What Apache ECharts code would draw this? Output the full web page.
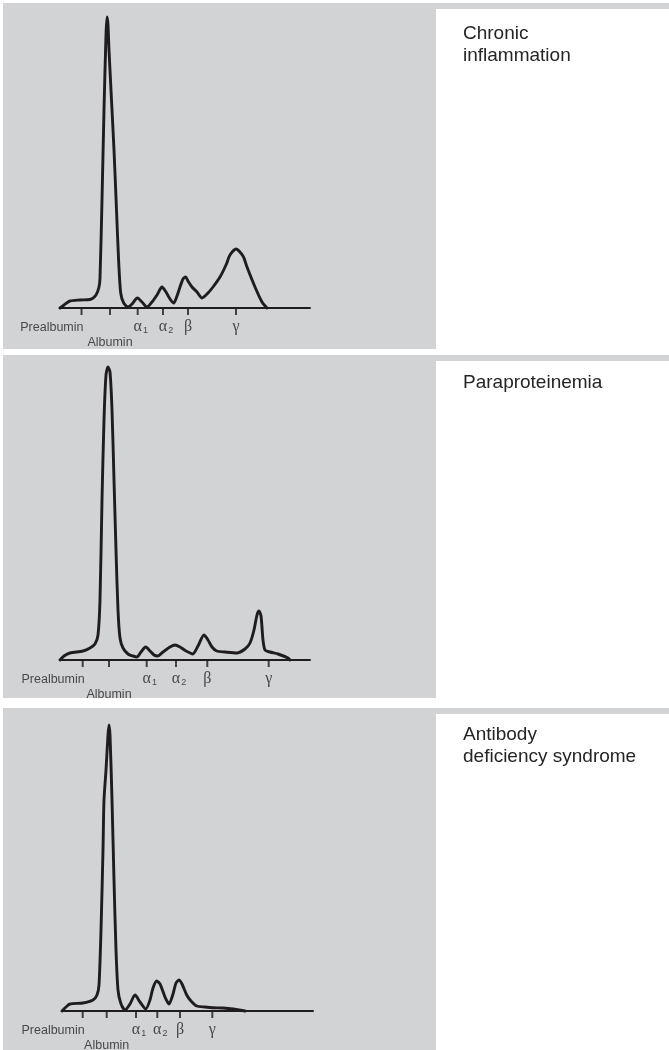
<!DOCTYPE html>
<html><head><meta charset="utf-8">
<script src="https://cdn.jsdelivr.net/npm/echarts@6/dist/echarts.min.js"></script>
<style>html,body{margin:0;padding:0;background:#fff}#c{width:669px;height:1050px}</style>
</head><body><div id="c"></div>
<script>
// Fraction names (tick labels)
const tickLabels = ['Prealbumin', 'Albumin', 'α1', 'α2', 'β', 'γ'];
const panelTitles = ['Chronic\ninflammation', 'Paraproteinemia', 'Antibody\ndeficiency syndrome'];

// Tick positions (mobility units) per panel
const chronicTicks = [21.5, 50, 77.7, 103, 128, 176];
const paraTicks = [22.7, 49, 86.7, 116, 147.3, 208.7];
const antibodyTicks = [22.7, 46.7, 76, 97.3, 120, 152.3];

// Densitometric curves [mobility, intensity]
const chronicCurve = [
  [0,0],[4,3],[10,7],[20,8],[30,8.5],[36,13],[39,21],[40,30],[42,108],[44,198],[46,273],[47,291],
  [48,283],[49,258],[51.5,208],[54,158],[56.5,98],[58.6,48],[60.7,15],[63.7,5],[68,1],[72,4],
  [77.4,10],[82,6],[87,1],[92,6],[97,13],[102,21],[106,16],[110,9],[113.6,5],[117,12],[120,21],
  [123,29],[125.6,31],[128,27],[132,21],[137,16],[142,10],[148,15],[153,21],[160,31],[166,43],
  [170,53],[176,59],[183,52],[187,41],[195,21],[202,6],[207,0]
];
const paraCurve = [
  [0,0],[4,4],[10,7],[23,9],[30,12],[35,16],[38,25],[40,60],[42,160],[44,240],[46,285],[48,293],
  [50,288],[52,250],[54,180],[56,110],[58,50],[60,22],[63,12],[68,6],[73,4],[77,3],[81,8],[85.7,13],
  [90,9],[94,5],[97.7,4],[103,8],[110,13],[115,15],[120,13],[126,9],[132.7,6],[138,14],[144,25],
  [148,20],[152,13],[156.7,9],[165,8],[176.7,7],[185,11],[190,17],[194,30],[197,45],[199,49],
  [201,44],[203,20],[205,10],[210,8],[218,6],[228,2],[230,0]
];
const antibodyCurve = [
  [2,0],[6,4],[10,7],[23,8],[33,11],[37,16],[39,26],[41,81],[43,161],[44,211],[46,241],[48,276],
  [49,286],[50,276],[52,211],[54,131],[56,61],[58,21],[60.7,8],[65,1],[70,7],[75,16],[80,9],
  [85.7,2],[90,11],[93,23],[96.7,30],[100,27],[105,14],[109,7],[113,17],[116,28],[119,31],[122,27],
  [126.7,16],[131,10],[136.7,5],[145,4],[153,3.3],[163,3],[173,2],[185,0]
];

const panels = [
  {curve: chronicCurve, ticks: chronicTicks, title: panelTitles[0], y0: 3, h: 346, base: 308, left: 60, xmin: 0, xmax: 250, titleTop: 23},
  {curve: paraCurve, ticks: paraTicks, title: panelTitles[1], y0: 355, h: 343, base: 660, left: 60, xmin: 0, xmax: 250, titleTop: 372},
  {curve: antibodyCurve, ticks: antibodyTicks, title: panelTitles[2], y0: 708, h: 342, base: 1011, left: 62, xmin: 2, xmax: 253, titleTop: 724}
];

const GRAY = '#d1d3d4', INK = '#1e1c1d', TXT = '#262425';
const YMAX = 300;
const grids = [], xAxes = [], yAxes = [], series = [], titles = [], graphics = [];

function labelFor(name) {
  if (name === 'Prealbumin') return {formatter: name, align: 'right', offset: [2, 16]};
  if (name === 'Albumin') return {formatter: name, align: 'center', offset: [0, 31]};
  const g = name.charAt(0), sub = name.slice(1);
  return {formatter: sub ? '{g|' + g + '}{s|' + sub + '}' : '{g|' + g + '}', align: 'center', offset: [sub ? 3 : 0, 15]};
}

panels.forEach((p, k) => {
  graphics.push({type: 'rect', silent: true, z: -10, shape: {x: 3, y: p.y0, width: 433, height: p.h}, style: {fill: GRAY}});
  graphics.push({type: 'rect', silent: true, z: -10, shape: {x: 3, y: p.y0, width: 666, height: 6}, style: {fill: GRAY}});
  titles.push({text: p.title, left: 463, top: p.titleTop, padding: 0,
    textStyle: {fontFamily: 'Liberation Sans', fontSize: 19, lineHeight: 22, fontWeight: 'normal', color: TXT}});
  grids.push({left: p.left, width: p.xmax - p.xmin, top: p.base - YMAX, height: YMAX});
  xAxes.push({gridIndex: k, type: 'value', min: p.xmin, max: p.xmax,
    axisLine: {show: true, onZero: true, lineStyle: {color: INK, width: 2}},
    axisTick: {show: false}, axisLabel: {show: false}, splitLine: {show: false}});
  yAxes.push({gridIndex: k, type: 'value', min: 0, max: YMAX, show: false, splitLine: {show: false}});
  series.push({type: 'line', xAxisIndex: k, yAxisIndex: k, data: p.curve, showSymbol: false, smooth: 0.25,
    clip: false, silent: true, lineStyle: {color: INK, width: 2.9, join: 'round', cap: 'round'}, z: 5});
  series.push({type: 'scatter', xAxisIndex: k, yAxisIndex: k, silent: true, z: 4,
    symbol: 'rect', symbolSize: [2, 7], symbolOffset: [0, 3.5], itemStyle: {color: INK},
    data: p.ticks.map((t, i) => {
      const L = labelFor(tickLabels[i]);
      return {value: [t, 0], label: {show: true, position: 'inside', formatter: L.formatter, align: L.align,
        verticalAlign: 'middle', offset: L.offset, color: TXT, fontFamily: 'Liberation Sans', fontSize: 12.5,
        rich: {g: {fontFamily: 'Liberation Serif', fontSize: 16, color: TXT},
               s: {fontFamily: 'Liberation Sans', fontSize: 9, color: TXT, padding: [8, 0, 0, 1]}}}};
    })
  });
});

const chart = echarts.init(document.getElementById('c'), null, {renderer: 'canvas'});
chart.setOption({animation: false, backgroundColor: '#fff', title: titles, grid: grids, xAxis: xAxes, yAxis: yAxes, series: series, graphic: graphics});
</script></body></html>
